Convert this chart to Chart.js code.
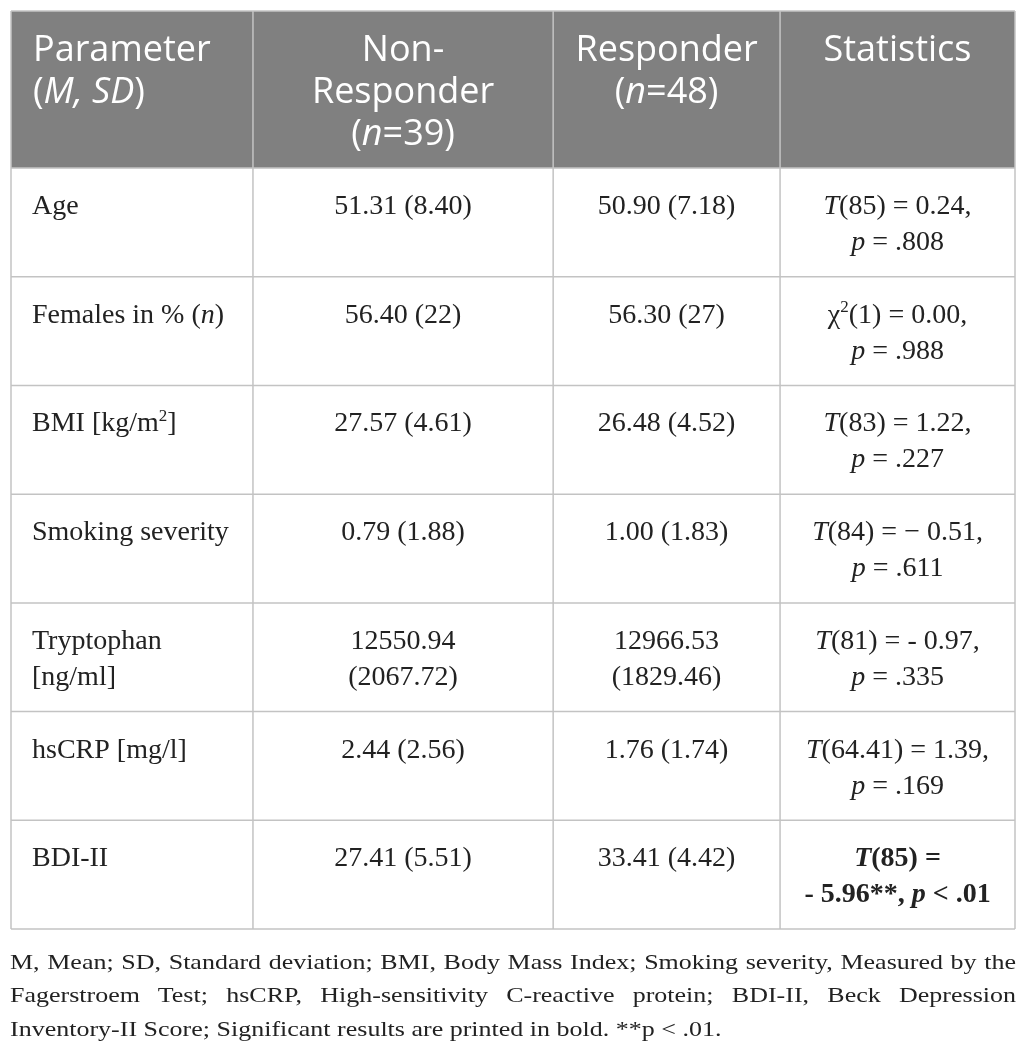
<!DOCTYPE html>
<html>
<head>
<meta charset="utf-8">
<script src="https://cdn.jsdelivr.net/npm/chart.js@4.4.1/dist/chart.umd.min.js"></script>
<style>
  body { margin: 0; background: #fff; }
  #wrap { position: relative; width: 1026px; height: 1053px; overflow: hidden; }
  #note {
    position: absolute; left: 10px; top: 946px; width: 1006px; margin: 0;
    font: 26px "Liberation Serif", serif; line-height: 41.25px; color: #222;
    transform: scaleY(0.8); transform-origin: 0 0;
  }
  #note span { display: block; white-space: nowrap; text-align: justify; text-align-last: justify; }
  #note span.last { text-align-last: left; }
</style>
</head>
<body>
<div id="wrap">
  <canvas id="tableChart" width="1026" height="1053"></canvas>
  <p id="note">
    <span>M, Mean; SD, Standard deviation; BMI, Body Mass Index; Smoking severity, Measured by the</span>
    <span>Fagerstroem Test; hsCRP, High-sensitivity C-reactive protein; BDI-II, Beck Depression</span>
    <span class="last">Inventory-II Score; Significant results are printed in bold. **p &lt; .01.</span>
  </p>
</div>
<script>
// _x_ = italic, ^x^ = superscript, \n = line break
const headers = ['Parameter\n(_M, SD_)', 'Non-\nResponder\n(_n_=39)', 'Responder\n(_n_=48)', 'Statistics'];
const parameters = ['Age', 'Females in % (_n_)', 'BMI [kg/m^2^]', 'Smoking severity', 'Tryptophan\n[ng/ml]', 'hsCRP [mg/l]', 'BDI-II'];
const nonResponder = ['51.31 (8.40)', '56.40 (22)', '27.57 (4.61)', '0.79 (1.88)', '12550.94\n(2067.72)', '2.44 (2.56)', '27.41 (5.51)'];
const responder = ['50.90 (7.18)', '56.30 (27)', '26.48 (4.52)', '1.00 (1.83)', '12966.53\n(1829.46)', '1.76 (1.74)', '33.41 (4.42)'];
const statistics = [
  '_T_(85) = 0.24,\n_p_ = .808',
  '\u03c7^2^(1) = 0.00,\n_p_ = .988',
  '_T_(83) = 1.22,\n_p_ = .227',
  '_T_(84) = \u2212 0.51,\n_p_ = .611',
  '_T_(81) = - 0.97,\n_p_ = .335',
  '_T_(64.41) = 1.39,\n_p_ = .169',
  '_T_(85) =\n- 5.96**, _p_ < .01'
];
const significant = [false, false, false, false, false, false, true];

// layout
const colEdges = [0, 0.241, 0.540, 0.766, 1];
const headerRows = 1.445;
const HEADER_BG = '#808080';
const GRID = '#c3c3c3';
const TEXT = '#222';

function parseRuns(str) {
  const runs = [];
  let italic = false, sup = false, buf = '';
  for (const ch of str) {
    if (ch === '_' || ch === '^') {
      if (buf) runs.push({ text: buf, italic, sup });
      buf = '';
      if (ch === '_') italic = !italic; else sup = !sup;
    } else {
      buf += ch;
    }
  }
  if (buf) runs.push({ text: buf, italic, sup });
  return runs;
}

function fontFor(run, size, family, bold) {
  const s = run.sup ? Math.round(size * 0.62) : size;
  return (run.italic ? 'italic ' : '') + (bold ? 'bold ' : '') + s + 'px ' + family;
}

function drawCell(ctx, str, x0, x1, top, opts) {
  const lines = str.split('\n');
  lines.forEach((line, i) => {
    const runs = parseRuns(line);
    let w = 0;
    runs.forEach(r => {
      ctx.font = fontFor(r, opts.size, opts.family, opts.bold);
      r.w = ctx.measureText(r.text).width;
      w += r.w;
    });
    let x = opts.align === 'left' ? x0 + opts.pad : (x0 + x1) / 2 - w / 2;
    const base = top + opts.first + i * opts.lineH;
    runs.forEach(r => {
      ctx.font = fontFor(r, opts.size, opts.family, opts.bold);
      ctx.fillText(r.text, x, r.sup ? base - opts.size * 0.38 : base);
      x += r.w;
    });
  });
}

const tablePlugin = {
  id: 'tablePlugin',
  afterDraw(chart) {
    const ctx = chart.ctx;
    const xs = chart.scales.x, ys = chart.scales.y;
    const px = v => xs.getPixelForValue(v);
    const py = v => ys.getPixelForValue(v);
    const nRows = parameters.length;
    const left = px(0), right = px(1);
    ctx.save();

    // header background
    ctx.fillStyle = HEADER_BG;
    ctx.fillRect(left, py(0), right - left, py(headerRows) - py(0));

    // grid
    ctx.strokeStyle = GRID;
    ctx.lineWidth = 1.5;
    ctx.beginPath();
    const rowLines = [0, headerRows];
    for (let r = 1; r <= nRows; r++) rowLines.push(headerRows + r);
    rowLines.forEach(v => { ctx.moveTo(left, py(v)); ctx.lineTo(right, py(v)); });
    colEdges.forEach(v => { ctx.moveTo(px(v), py(0)); ctx.lineTo(px(v), py(headerRows + nRows)); });
    ctx.stroke();

    ctx.textBaseline = 'alphabetic';

    // header text
    ctx.fillStyle = '#fff';
    headers.forEach((h, c) => {
      drawCell(ctx, h, px(colEdges[c]), px(colEdges[c + 1]), py(0), {
        size: 36, family: '"Open Sans", sans-serif', bold: false,
        align: c === 0 ? 'left' : 'center', pad: 22, first: 50, lineH: 42
      });
    });

    // body text
    ctx.fillStyle = TEXT;
    const columns = [parameters, nonResponder, responder, statistics];
    for (let r = 0; r < nRows; r++) {
      const top = py(headerRows + r);
      columns.forEach((col, c) => {
        drawCell(ctx, col[r], px(colEdges[c]), px(colEdges[c + 1]), top, {
          size: 28, family: '"Liberation Serif", serif',
          bold: c === 3 && significant[r],
          align: c === 0 ? 'left' : 'center', pad: 21, first: 46, lineH: 36
        });
      });
    }
    ctx.restore();
  }
};

new Chart(document.getElementById('tableChart'), {
  type: 'scatter',
  data: { datasets: [] },
  options: {
    responsive: false,
    animation: false,
    events: [],
    layout: { padding: { left: 11, top: 11, right: 11, bottom: 124 } },
    plugins: { legend: { display: false }, tooltip: { enabled: false } },
    scales: {
      x: { type: 'linear', min: 0, max: 1, display: false },
      y: { type: 'linear', min: 0, max: headerRows + parameters.length, reverse: true, display: false }
    }
  },
  plugins: [tablePlugin]
});
</script>
</body>
</html>
